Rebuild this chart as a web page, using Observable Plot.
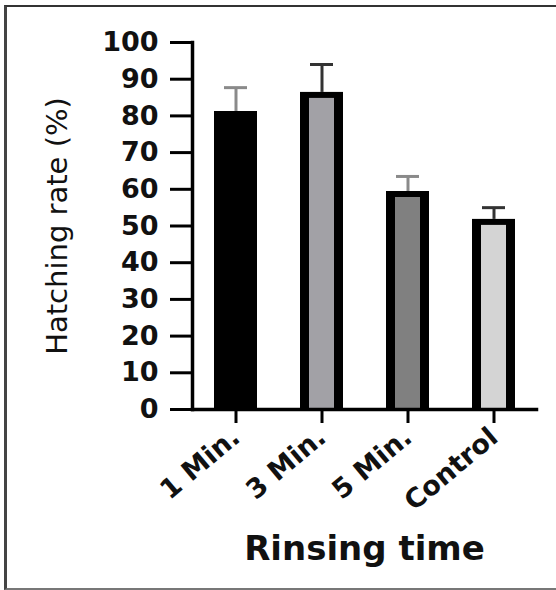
<!DOCTYPE html>
<html>
<head>
<meta charset="utf-8">
<script src="https://cdn.jsdelivr.net/npm/d3@7"></script>
<script src="https://cdn.jsdelivr.net/npm/@observablehq/plot@0.6"></script>
<style>
  html, body { margin: 0; padding: 0; background: #fff; }
  body { width: 556px; height: 590px; position: relative; overflow: hidden; }
  #frame { position: absolute; left: 4px; top: 5px; width: 600px; height: 581px;
           border-left: 3px solid #444; border-top: 2px solid #333; border-bottom: 2px solid #777; }
  #chart { position: absolute; left: 0; top: 0; }
</style>
</head>
<body>
<div id="frame"></div>
<div id="chart"></div>
<script>
const categories = ["1 Min.", "3 Min.", "5 Min.", "Control"];
const means = [81.2, 86.4, 59.4, 51.8];
const upper = [87.7, 94.0, 63.5, 55.0];
const fills = ["#000000", "#a2a1a6", "#808080", "#d4d4d4"];
const whiskerColors = ["#8a8a8a", "#333333", "#8a8a8a", "#333333"];
const yTicks = [0, 10, 20, 30, 40, 50, 60, 70, 80, 90, 100];

const data = categories.map((c, i) => ({
  cat: c, mean: means[i], up: upper[i], fill: fills[i], wc: whiskerColors[i]
}));

const chart = Plot.plot({
  width: 556,
  height: 590,
  marginLeft: 192,
  marginRight: 20,
  marginTop: 42,
  marginBottom: 181,
  style: { background: "transparent", overflow: "visible" },
  x: { domain: categories, paddingInner: 0.5, paddingOuter: 0.25, label: null },
  y: { domain: [0, 100], label: null },
  marks: [
    Plot.ruleX(data, { x: "cat", y1: "mean", y2: "up", stroke: "wc", strokeWidth: 3 }),
    Plot.tickY(data, { x: "cat", y: "up", stroke: "wc", strokeWidth: 3, insetLeft: 10, insetRight: 10 }),
    Plot.barY(data, { x: "cat", y: "mean", fill: "#000" }),
    Plot.barY(data, { x: "cat", y: "mean", fill: "fill", insetLeft: 9, insetRight: 9, insetTop: 6 }),
    Plot.axisY({ ticks: yTicks, tickSize: 22, tickPadding: 12, strokeWidth: 3,
      fontSize: 27, fontWeight: "bold", fontFamily: "DejaVu Sans", fill: "#111", label: null }),
    Plot.axisX({ tickSize: 14, tickPadding: 10, strokeWidth: 3, tickRotate: -40,
      fontSize: 27, fontWeight: "bold", fontFamily: "DejaVu Sans", fill: "#111", label: null }),
    Plot.frame({ anchor: "left", strokeWidth: 3.5, stroke: "#000" }),
    Plot.frame({ anchor: "bottom", strokeWidth: 3.5, stroke: "#000" }),
    Plot.text(["Hatching rate (%)"], { frameAnchor: "left", textAnchor: "middle", dx: -135, rotate: -90,
      fontSize: 29, fontFamily: "DejaVu Sans", fill: "#111" }),
    Plot.text(["Rinsing time"], { frameAnchor: "bottom", dy: 150, fontSize: 34,
      fontWeight: "bold", fontFamily: "DejaVu Sans", fill: "#111" })
  ]
});
document.getElementById("chart").appendChild(chart);
</script>
</body>
</html>
